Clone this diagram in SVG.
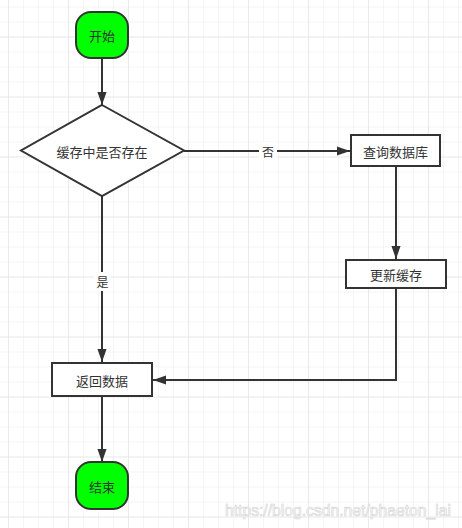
<svg xmlns="http://www.w3.org/2000/svg" width="462" height="528" viewBox="0 0 462 528">
<style>
.node{stroke:#333333;stroke-width:2}
.term{fill:#00ff00}
.box{fill:#ffffff}
.lbl{font-family:"Noto Sans CJK SC","Liberation Sans",sans-serif;font-size:13px;fill:#333333;text-anchor:middle;dominant-baseline:central}
.edge{fill:none;stroke:#333333;stroke-width:2}
.elbl{font-family:"Noto Sans CJK SC","Liberation Sans",sans-serif;font-size:12px;fill:#333333;text-anchor:middle;dominant-baseline:central}
.wm{font-family:"Liberation Sans",Arial,sans-serif;font-size:15.7px;fill:#ffffff;stroke:#d8d8d8;stroke-width:0.7}
</style>
<defs>
<pattern id="minor" x="8" y="6.5" width="15" height="15" patternUnits="userSpaceOnUse">
<path d="M0 0H15M0 0V15" fill="none" stroke="#ececec" stroke-width="1"/>
</pattern>
<pattern id="major" x="8" y="36.5" width="60" height="60" patternUnits="userSpaceOnUse">
<path d="M0 0H60M0 0V60" fill="none" stroke="#e0e0e0" stroke-width="1"/>
</pattern>
<marker id="arr" viewBox="0 0 10 10" refX="10" refY="5" markerWidth="13" markerHeight="13" markerUnits="userSpaceOnUse" orient="auto">
<path d="M0 1.5L10 5L0 8.5Z" fill="#333333"/>
</marker>
</defs>
<rect width="462" height="528" fill="#ffffff"/>
<rect width="462" height="528" fill="url(#minor)"/>
<rect width="462" height="528" fill="url(#major)"/>

<g id="connectors">
<path class="edge" d="M102 58V105" marker-end="url(#arr)"/>
<path class="edge" d="M184 151H350" marker-end="url(#arr)"/>
<path class="edge" d="M396 166V259" marker-end="url(#arr)"/>
<path class="edge" d="M396 288V380H153" marker-end="url(#arr)"/>
<path class="edge" d="M102 196V362" marker-end="url(#arr)"/>
<path class="edge" d="M102 396V462" marker-end="url(#arr)"/>
<rect x="259" y="142" width="18" height="18" fill="#ffffff"/>
<text class="elbl" x="268" y="151">否</text>
<rect x="94" y="272" width="17" height="19" fill="#ffffff"/>
<text class="elbl" x="102.5" y="281.5">是</text>
</g>

<g id="start">
<rect class="node term" x="76" y="12" width="52" height="46" rx="15" ry="15"/>
<text class="lbl" x="102" y="35">开始</text>
</g>
<g id="check-cache">
<path class="node box" d="M102 105L184 150.5L102 196L21 150.5Z"/>
<text class="lbl" x="102" y="151">缓存中是否存在</text>
</g>
<g id="query-db">
<rect class="node box" x="351" y="135" width="89" height="31"/>
<text class="lbl" x="395.5" y="151">查询数据库</text>
</g>
<g id="update-cache">
<rect class="node box" x="346" y="260" width="100" height="28"/>
<text class="lbl" x="396" y="274">更新缓存</text>
</g>
<g id="return-data">
<rect class="node box" x="52" y="363" width="100" height="33"/>
<text class="lbl" x="102" y="380">返回数据</text>
</g>
<g id="end">
<rect class="node term" x="76" y="462" width="52" height="47" rx="15" ry="15"/>
<text class="lbl" x="102" y="486">结束</text>
</g>
<text class="wm" x="225" y="516">https://blog.csdn.net/phaeton_lai</text>
</svg>
